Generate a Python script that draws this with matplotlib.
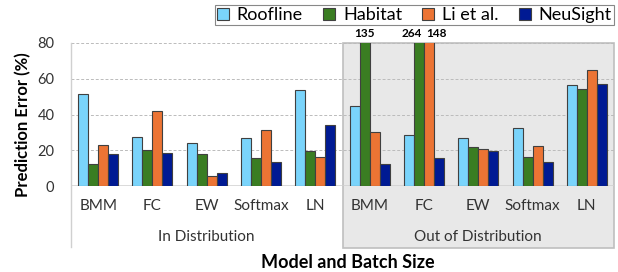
import matplotlib
matplotlib.use('Agg')
import matplotlib.pyplot as plt
from matplotlib.patches import Rectangle, Patch
from matplotlib.lines import Line2D
import numpy as np

plt.rcParams['font.family'] = ['Lato', 'DejaVu Sans']

# data
kernels = ['BMM', 'FC', 'EW', 'Softmax', 'LN']
groups = ['In Distribution', 'Out of Distribution']
methods = ['Roofline', 'Habitat', 'Li et al.', 'NeuSight']
colors = ['#7AD4FB', '#3A7D22', '#EC7434', '#001A93']

roofline = [51.7, 27.3, 24.3, 26.6, 53.9, 44.8, 28.3, 26.8, 32.6, 56.6]
habitat = [12.2, 20.0, 18.0, 15.7, 19.5, 135, 264, 21.7, 16.1, 54.3]
li_et_al = [23.0, 41.7, 5.8, 31.5, 16.5, 30.0, 148, 20.6, 22.3, 65.0]
neusight = [18.0, 18.4, 7.1, 13.7, 33.9, 12.2, 15.9, 19.7, 13.5, 56.9]
series = [roofline, habitat, li_et_al, neusight]
ymax = 80

fig = plt.figure(figsize=(6.18, 2.72), dpi=100)
ax = fig.add_axes([71 / 618, 1 - 186 / 272, 543 / 618, 143 / 272])
ax.set_facecolor('none')

n = len(roofline)
x = np.arange(n)
w = 0.184
for i, (vals, c) in enumerate(zip(series, colors)):
    ax.bar(x + (i - 1.5) * w, vals, w, color=c, edgecolor='#404040',
           linewidth=0.8, zorder=3)

# values of bars cut off at the top; neighbours are pushed apart
for xi in x:
    over = [i for i in range(4) if series[i][xi] > ymax]
    for i in over:
        xc = xi + (i - 1.5) * w
        ha = 'center'
        if i + 1 in over:
            xc, ha = xc + w / 2 - 0.04, 'right'
        elif i - 1 in over:
            xc, ha = xc - w / 2 + 0.04, 'left'
        ax.text(xc, ymax + 2.2, f'{series[i][xi]:g}', ha=ha, va='bottom',
                fontsize=8.5, fontweight='bold', clip_on=False)

ax.set_xlim(-0.5, n - 0.5)
ax.set_ylim(0, ymax)
ax.set_yticks([0, 20, 40, 60, 80])
for yv in [20, 40, 60, 80]:
    ax.axhline(yv, color='#BBBBBB', linestyle=(0, (3, 2)), linewidth=0.7, zorder=1)
ax.axhline(0, color='#D0D0D0', linewidth=1.8, zorder=2)
for s in ax.spines.values():
    s.set_visible(False)

ax.set_xticks(x)
ax.set_xticklabels(kernels * 2, fontsize=11, color='#333333')
ax.tick_params(axis='x', length=0, pad=9)
ax.tick_params(axis='y', length=0, labelsize=10.5, labelcolor='#333333', pad=12)

# shaded out-of-distribution region
trans = ax.get_xaxis_transform()
ax.add_patch(Rectangle((4.5, -0.434), 5.0, 1.434, transform=trans,
                       facecolor='#E8E8E8', edgecolor='#BFBFBF', linewidth=1.2,
                       clip_on=False, zorder=0))
ax.add_line(Line2D([-0.5, -0.5], [-0.43, 1.0], transform=trans, color='#D0D0D0',
                   linewidth=1.0, clip_on=False))

ax.text(2.0, -0.36, groups[0], transform=trans, ha='center', va='center',
        fontsize=11, color='#333333')
ax.text(7.0, -0.36, groups[1], transform=trans, ha='center', va='center',
        fontsize=11, color='#333333')

ax.set_ylabel('Prediction Error (%)', fontsize=12, fontweight='bold')
ax.yaxis.set_label_coords(-0.073, 0.43)
fig.text(348 / 618, 1 - 262 / 272, 'Model and Batch Size', ha='center', va='center',
         fontsize=13, fontweight='bold')

handles = [Patch(facecolor=c, edgecolor='#404040', linewidth=0.8) for c in colors]
leg = fig.legend(handles, methods, loc='upper right',
                 bbox_to_anchor=(614 / 618, 1 - 5 / 272), borderaxespad=0,
                 ncol=4, fontsize=13, frameon=True, fancybox=False, framealpha=1,
                 handlelength=0.65, handleheight=0.65, handletextpad=0.45,
                 columnspacing=1.12, borderpad=0.12, edgecolor='#888888')
leg.get_frame().set_linewidth(0.8)

fig.savefig('out.png', dpi=100)
